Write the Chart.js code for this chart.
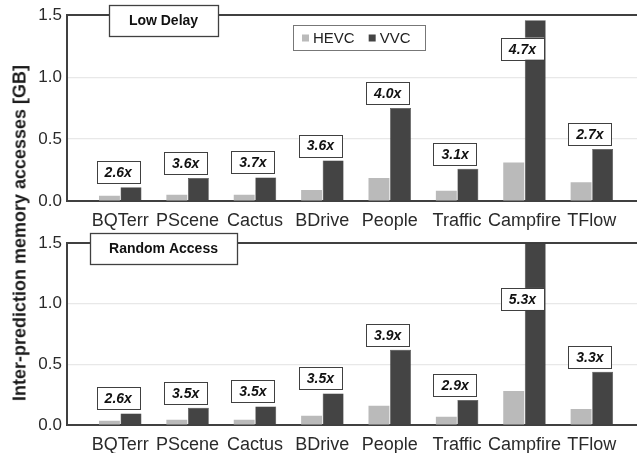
<!DOCTYPE html>
<html>
<head>
<meta charset="utf-8">
<script src="https://cdn.jsdelivr.net/npm/chart.js@4.4.1/dist/chart.umd.min.js"></script>
<style>
  body { margin: 0; background: #fff; overflow: hidden; }
  #wrap { position: relative; width: 637px; height: 453px; }
  .pane { position: absolute; left: 0; width: 637px; }
  #ytitle {
    position: absolute; left: 20px; top: 233px;
    transform: translate(-50%, -50%) rotate(-90deg);
    white-space: nowrap; font: bold 18px 'Liberation Sans', Arial, sans-serif; color: #1a1a1a;
  }
</style>
</head>
<body>
<div id="wrap">
  <div class="pane" style="top:0;height:234px"><canvas id="chartLD" width="637" height="234"></canvas></div>
  <div class="pane" style="top:228px;height:225px"><canvas id="chartRA" width="637" height="225"></canvas></div>
  <div id="ytitle">Inter-prediction memory accesses [GB]</div>
</div>
<script>
// --- dados ---
const categories = ['BQTerr', 'PScene', 'Cactus', 'BDrive', 'People', 'Traffic', 'Campfire', 'TFlow'];
const seriesNames = ['HEVC', 'VVC'];

const hevcLD = [0.043, 0.05, 0.05, 0.088, 0.185, 0.083, 0.31, 0.152];
const vvcLD = [0.11, 0.185, 0.19, 0.326, 0.75, 0.26, 1.46, 0.42];
const ratioLD = ['2.6x', '3.6x', '3.7x', '3.6x', '4.0x', '3.1x', '4.7x', '2.7x'];

const hevcRA = [0.035, 0.043, 0.043, 0.076, 0.158, 0.068, 0.28, 0.133];
const vvcRA = [0.095, 0.142, 0.153, 0.26, 0.62, 0.207, 1.5, 0.44];
const ratioRA = ['2.6x', '3.5x', '3.5x', '3.5x', '3.9x', '2.9x', '5.3x', '3.3x'];

const yTicks = [0, 0.5, 1.0, 1.5];

const FONT = "'Liberation Sans', Arial, sans-serif";
const DARK = '#404040';

// caixas com a razao VVC/HEVC
const ratioPlugin = {
    id: 'ratioBoxes',
    afterDatasetsDraw(chart, args, opts) {
        const { ctx, scales } = chart;
        const meta = chart.getDatasetMeta(1);
        ctx.save();
        ctx.font = 'italic bold 14px ' + FONT;
        ctx.textAlign = 'center';
        ctx.textBaseline = 'middle';
        opts.labels.forEach((txt, i) => {
            const el = meta.data[i];
            const cx = scales.x.getPixelForValue(i) - 2;
            const w = ctx.measureText(txt).width + 16;
            const h = 22;
            let cy = el.y - 4 - h / 2;
            if (opts.values[i] > 1.2) cy = scales.y.getPixelForValue(opts.peakAt);
            ctx.fillStyle = '#fff';
            ctx.fillRect(cx - w / 2, cy - h / 2, w, h);
            ctx.strokeStyle = DARK;
            ctx.lineWidth = 1;
            ctx.strokeRect(Math.round(cx - w / 2) + 0.5, Math.round(cy - h / 2) + 0.5, Math.round(w), h);
            ctx.fillStyle = '#111';
            ctx.fillText(txt, cx, cy + 1);
        });
        ctx.restore();
    }
};

// titulo do painel (caixa) e legenda
const panelPlugin = {
    id: 'panelDeco',
    afterDraw(chart, args, opts) {
        const { ctx } = chart;
        ctx.save();
        const t = opts.title;
        ctx.fillStyle = '#fff';
        ctx.fillRect(t.x, t.y, t.w, t.h);
        ctx.strokeStyle = DARK;
        ctx.lineWidth = 1.3;
        ctx.strokeRect(t.x + 0.5, t.y + 0.5, t.w, t.h);
        ctx.fillStyle = '#111';
        ctx.font = 'bold 14px ' + FONT;
        ctx.textAlign = 'center';
        ctx.textBaseline = 'middle';
        ctx.fillText(t.text, t.x + t.w / 2, t.y + t.h / 2 + 1);

        if (opts.legend) {
            const L = opts.legend;
            ctx.fillStyle = '#fff';
            ctx.fillRect(L.x, L.y, L.w, L.h);
            ctx.strokeStyle = '#777';
            ctx.lineWidth = 1;
            ctx.strokeRect(L.x + 0.5, L.y + 0.5, L.w, L.h);
            ctx.font = '15px ' + FONT;
            ctx.textAlign = 'left';
            let x = L.x + 9;
            const cy = L.y + L.h / 2 + 1;
            chart.data.datasets.forEach(ds => {
                ctx.fillStyle = ds.backgroundColor;
                ctx.fillRect(x, cy - 4, 7, 7);
                x += 11;
                ctx.fillStyle = '#222';
                ctx.fillText(ds.label, x, cy);
                x += ctx.measureText(ds.label).width + 14;
            });
        }
        ctx.restore();
    }
};

function makeChart(id, hevc, vvc, ratios, title, legend, peakAt, xAxisHeight) {
    const ctx = document.getElementById(id).getContext('2d');
    return new Chart(ctx, {
        type: 'bar',
        data: {
            datasets: [{
                label: seriesNames[0],
                data: categories.map((c, i) => ({ x: i, y: hevc[i] })),
                backgroundColor: '#bababa',
                borderWidth: 0
            }, {
                label: seriesNames[1],
                data: categories.map((c, i) => ({ x: i, y: vvc[i] })),
                backgroundColor: '#444444',
                borderColor: '#333333',
                borderWidth: 0.5
            }]
        },
        plugins: [ratioPlugin, panelPlugin],
        options: {
            responsive: false,
            animation: false,
            events: [],
            barPercentage: 0.97,
            categoryPercentage: 0.64,
            layout: { padding: { top: 14, left: 0, right: 0, bottom: 0 } },
            plugins: {
                legend: { display: false },
                tooltip: { enabled: false },
                ratioBoxes: { labels: ratios, values: vvc, peakAt: peakAt },
                panelDeco: { title: title, legend: legend }
            },
            scales: {
                x: {
                    type: 'linear',
                    offset: false,
                    min: -0.79,
                    max: 7.67,
                    afterBuildTicks: s => { s.ticks = categories.map((c, i) => ({ value: i })); },
                    afterFit: s => { s.height = xAxisHeight; },
                    grid: { display: false, drawTicks: false, offset: false },
                    border: { display: true, color: DARK, width: 2 },
                    ticks: {
                        autoSkip: false, maxRotation: 0, padding: 9,
                        color: '#2a2a2a', font: { family: FONT, size: 18 },
                        callback: v => categories[v] ?? ''
                    }
                },
                y: {
                    min: 0,
                    max: 1.5,
                    afterBuildTicks: s => { s.ticks = yTicks.map(v => ({ value: v })); },
                    afterFit: s => { s.width = 67; },
                    grid: {
                        drawTicks: false,
                        color: c => c.tick.value === 1.5 ? DARK : (c.tick.value === 0 ? 'rgba(0,0,0,0)' : '#e8e8e8'),
                        lineWidth: c => c.tick.value === 1.5 ? 2 : 1.2
                    },
                    border: { display: true, color: DARK, width: 2 },
                    ticks: {
                        padding: 5, color: '#2a2a2a', font: { family: FONT, size: 17 },
                        callback: v => v.toFixed(1)
                    }
                }
            }
        }
    });
}

makeChart('chartLD', hevcLD, vvcLD, ratioLD,
    { text: 'Low Delay', x: 109, y: 5, w: 109, h: 31 },
    { x: 293, y: 25, w: 132, h: 25 }, 1.23, 33);

makeChart('chartRA', hevcRA, vvcRA, ratioRA,
    { text: 'Random Access', x: 90, y: 5, w: 147, h: 31 },
    null, 1.04, 28);
</script>
</body>
</html>
